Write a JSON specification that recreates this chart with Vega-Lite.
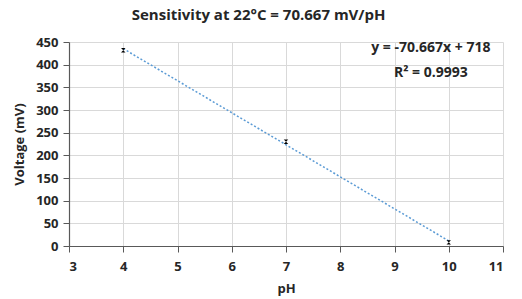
{
  "$schema": "https://vega.github.io/schema/vega-lite/v6.json",
  "width": 434,
  "height": 204,
  "autosize": {"type": "none"},
  "padding": {"left": 69, "top": 42, "right": 19, "bottom": 53},
  "background": "white",
  "title": {
    "text": "Sensitivity  at 22°C = 70.667  mV/pH",
    "frame": "bounds",
    "anchor": "middle",
    "fontSize": 15,
    "font": "Open Sans",
    "fontWeight": "bold",
    "color": "#262626",
    "offset": 13
  },
  "config": {
    "view": {"stroke": null},
    "axis": {
      "labelFont": "Open Sans",
      "titleFont": "Open Sans",
      "labelFontWeight": "bold",
      "titleFontWeight": "bold",
      "labelColor": "#262626",
      "titleColor": "#262626",
      "labelFontSize": 13,
      "titleFontSize": 13,
      "labelOverlap": false,
      "gridColor": "#d9d9d9",
      "domainColor": "#595959",
      "tickColor": "#595959",
      "domainWidth": 1.2
    }
  },
  "datasets": {
    "measured": [
      {"pH": 4, "mV": 432},
      {"pH": 7, "mV": 230},
      {"pH": 10, "mV": 8}
    ],
    "trend": [
      {"pH": 4, "mV": 435.3},
      {"pH": 10, "mV": 11.3}
    ],
    "note": [
      {"pH": 9.67, "mV": 437, "label": "y = -70.667x + 718"},
      {"pH": 9.67, "mV": 382, "label": "R² = 0.9993"}
    ]
  },
  "encoding": {
    "x": {
      "field": "pH", "type": "quantitative",
      "scale": {"domain": [3, 11], "nice": false},
      "axis": {"values": [3,4,5,6,7,8,9,10,11], "title": "pH", "tickSize": 6, "labelPadding": 8, "titlePadding": 9}
    },
    "y": {
      "field": "mV", "type": "quantitative",
      "scale": {"domain": [0, 450], "nice": false},
      "axis": {"values": [0,50,100,150,200,250,300,350,400,450], "tickCount": 10, "title": "Voltage (mV)", "tickSize": 6, "labelPadding": 5, "titlePadding": 9}
    }
  },
  "layer": [
    {
      "data": {"name": "trend"},
      "mark": {"type": "line", "color": "#5b9bd5", "strokeDash": [2, 2], "strokeWidth": 1.5}
    },
    {
      "data": {"name": "measured"},
      "mark": {"type": "point", "shape": "M-1,-1L1,-1L-1,1L1,1Z", "filled": true, "color": "black", "size": 20, "opacity": 1}
    },
    {
      "data": {"name": "note"},
      "mark": {"type": "text", "font": "Open Sans", "fontWeight": "bold", "fontSize": 14, "color": "#262626", "align": "center", "baseline": "middle"},
      "encoding": {
        "text": {"field": "label"}
      }
    }
  ]
}
